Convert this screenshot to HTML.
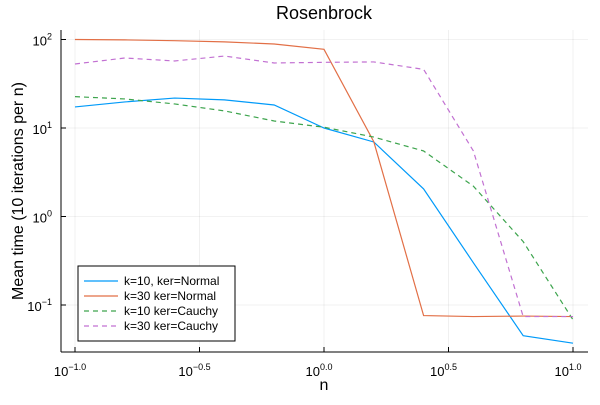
<!DOCTYPE html>
<html><head><meta charset="utf-8"><style>
body{margin:0;background:#fff}
svg{font-family:"Liberation Sans","DejaVu Sans",sans-serif}
</style></head><body>
<svg id="c" width="600" height="400" viewBox="0 0 600 400" xmlns="http://www.w3.org/2000/svg">
<rect width="600" height="400" fill="#fff"/>
<text x="324" y="19" font-size="18" text-anchor="middle">Rosenbrock</text>
<text transform="translate(23,191) rotate(-90)" font-size="16" text-anchor="middle">Mean time (10 iterations per n)</text>
<text x="324" y="390" font-size="16" text-anchor="middle">n</text>
<g id="grid"></g><g id="series"></g><g id="axes"></g>
<g id="legend">
<rect x="78" y="266" width="157" height="75" fill="#fff" stroke="#000" stroke-width="1"/>
</g>
</svg>
<script>
const xLogs=[-1,-0.8,-0.6,-0.4,-0.2,0,0.2,0.4,0.6,0.8,1];
const seriesNames=["k=10, ker=Normal","k=30 ker=Normal","k=10 ker=Cauchy","k=30 ker=Cauchy"];
const k10Normal=[17.3,19.7,21.8,20.8,18.2,10,6.95,2.05,0.30,0.045,0.037];
const k30Normal=[100,99,97,94,89,77.5,7.0,0.076,0.074,0.075,0.074];
const k10Cauchy=[22.6,21.3,18.7,15.6,12.0,10.2,7.9,5.5,2.2,0.52,0.068];
const k30Cauchy=[52.9,61.8,57.2,65,54.3,55.2,55.8,46,5.5,0.074,0.074];
const xTicks=["−1.0","−0.5","0.0","0.5","1.0"];
const xTickVals=[-1,-0.5,0,0.5,1];
const yTickVals=[-1,0,1,2];
const yTickLabels=["−1","0","1","2"];
const NS="http://www.w3.org/2000/svg";
const X=l=>324+l*249;
const Y=v=>216.5-Math.log10(v)*88.5;
const YL=l=>216.5-l*88.5;
function mk(t,a,p){const e=document.createElementNS(NS,t);for(const k in a)e.setAttribute(k,a[k]);p.appendChild(e);return e;}
const grid=document.getElementById('grid'),axes=document.getElementById('axes'),ser=document.getElementById('series');
xTickVals.forEach((v,i)=>{
 const g=mk('line',{x1:X(v),x2:X(v),y1:30,y2:352,stroke:'#000','stroke-opacity':0.1,'stroke-width':0.6},grid);
 
 
 mk('line',{x1:X(v),x2:X(v),y1:352,y2:347,stroke:'#000'},axes);
 const t=mk('text',{x:X(v)-5,y:376,'font-size':13,'text-anchor':'middle'},axes);
 
 
 t.textContent='10';
 const s=mk('tspan',{dy:-6,'font-size':9},t);s.textContent=xTicks[i];
});
yTickVals.forEach((v,i)=>{
 const g=mk('line',{x1:61,x2:588,y1:YL(v),y2:YL(v),stroke:'#000','stroke-opacity':0.1,'stroke-width':0.6},grid);
 
 
 mk('line',{x1:61,x2:66,y1:YL(v),y2:YL(v),stroke:'#000'},axes);
 const t=mk('text',{x:52,y:YL(v)+6,'font-size':13,'text-anchor':'end'},axes);
 
 
 t.textContent='10';
 const s=mk('tspan',{dy:-6,'font-size':9},t);s.textContent=yTickLabels[i];
});
mk('line',{x1:61,x2:61,y1:30,y2:352,stroke:'#000'},axes);
mk('line',{x1:61,x2:588,y1:352,y2:352,stroke:'#000'},axes);
const data=[k10Normal,k30Normal,k10Cauchy,k30Cauchy];
const colors=["#009af9","#e26f46","#3da44d","#c271d2"];
const dash=[null,null,"5,4","5,4"];
const snames=["series-k10-normal","series-k30-normal","series-k10-cauchy","series-k30-cauchy"];
data.forEach((d,i)=>{
 const p=mk('polyline',{points:d.map((v,j)=>X(xLogs[j])+','+Y(v)).join(' '),fill:'none',stroke:colors[i],'stroke-width':1.2},ser);
 if(dash[i])p.setAttribute('stroke-dasharray',dash[i]);
 
 
});
const leg=document.getElementById('legend');
const ly=[281,296,311,326];
seriesNames.forEach((n,i)=>{
 const g=mk('g',{},leg);
 
 
 const l=mk('line',{x1:84,x2:118,y1:ly[i],y2:ly[i],stroke:colors[i],'stroke-width':1.2},g);
 if(dash[i])l.setAttribute('stroke-dasharray',dash[i]);
 const t=mk('text',{x:124,y:ly[i]+4,'font-size':12},g);t.textContent=n;
});
</script>
</body></html>
